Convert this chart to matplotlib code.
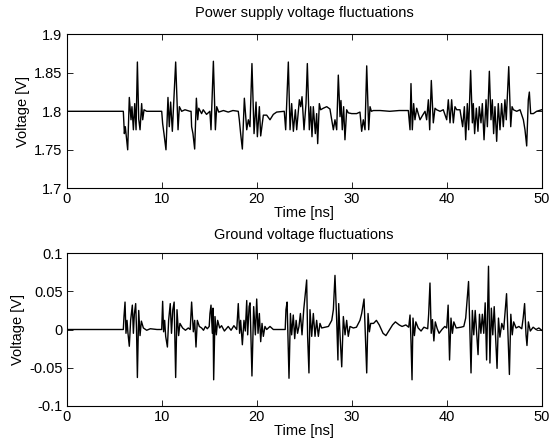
import matplotlib
matplotlib.use("Agg")
import matplotlib.pyplot as plt

plt.rcParams['font.family'] = ['Liberation Sans', 'DejaVu Sans']

# ---------------- data ----------------
vdd_time_ns = [
    0, 5.96, 6.07, 6.17, 6.42, 6.59, 6.77, 6.87, 7.02, 7.16, 7.30, 7.44, 7.58, 7.72, 7.89, 8.00, 8.14, 8.42, 10.0,
    10.10, 10.24, 10.45, 10.66, 10.80, 10.94, 11.12, 11.26, 11.47, 11.72, 11.86, 12.10, 12.45, 12.98,
    13.09, 13.15, 13.29, 13.47, 13.65, 13.79, 13.90, 14.20, 14.37, 14.72, 15.07, 15.19, 15.44, 15.65, 15.79,
    16.00, 16.50, 17.00, 17.50, 18.00,
    18.06, 18.17, 18.31, 18.49, 18.70, 18.95, 19.12, 19.29, 19.50, 19.72, 19.93, 20.07, 20.28, 20.42, 20.70,
    21.05, 21.40, 21.75, 22.10, 22.90,
    23.05, 23.33, 23.51, 23.68, 23.86, 24.07, 24.21, 24.49, 24.63, 24.77, 24.98, 25.19, 25.33, 25.54, 25.68,
    25.82, 25.96, 26.17, 26.31, 26.42, 26.59, 26.73, 27.01, 27.37, 27.71,
    28.07, 28.24, 28.42, 28.59, 28.77, 28.87, 29.01, 29.15, 29.29, 29.47, 29.64, 30.00, 30.52, 30.87, 31.05,
    31.22, 31.40, 31.58, 31.79, 31.93, 32.07, 32.28, 33.00, 34.00, 35.00, 35.96,
    36.14, 36.24, 36.38, 36.52, 36.66, 36.84, 37.19, 37.47, 37.72, 37.89, 38.07, 38.21, 38.38, 38.59, 38.77,
    38.94, 39.30, 39.64, 40.00, 40.17, 40.35, 40.52, 40.70, 40.87, 41.05, 41.40, 41.68, 41.86, 42.00, 42.17,
    42.31, 42.52, 42.70, 42.80, 42.94, 43.12, 43.29, 43.43, 43.61, 43.75, 43.93, 44.14, 44.28, 44.49, 44.66,
    44.80, 44.94, 45.08, 45.26, 45.43, 45.61, 45.78, 45.96, 46.13, 46.27, 46.53, 46.74, 46.88, 47.02, 47.37,
    47.72, 48.07, 48.24, 48.42, 48.59, 48.70, 48.84, 49.12, 49.47, 50.00,
]
vdd_volts = [
    1.800, 1.800, 1.771, 1.780, 1.750, 1.818, 1.789, 1.806, 1.776, 1.810, 1.776, 1.864, 1.790, 1.776, 1.810, 1.789, 1.802, 1.800, 1.800,
    1.784, 1.771, 1.750, 1.818, 1.780, 1.812, 1.774, 1.810, 1.864, 1.776, 1.806, 1.800, 1.802, 1.800,
    1.800, 1.780, 1.771, 1.751, 1.817, 1.789, 1.804, 1.797, 1.802, 1.796, 1.800, 1.776, 1.865, 1.776, 1.806,
    1.799, 1.801, 1.799, 1.801, 1.800,
    1.800, 1.789, 1.771, 1.751, 1.817, 1.776, 1.789, 1.780, 1.862, 1.771, 1.812, 1.767, 1.806, 1.768, 1.795,
    1.795, 1.789, 1.796, 1.799, 1.800,
    1.776, 1.864, 1.776, 1.810, 1.774, 1.802, 1.776, 1.815, 1.806, 1.819, 1.776, 1.810, 1.862, 1.776, 1.806,
    1.767, 1.806, 1.771, 1.797, 1.758, 1.810, 1.802, 1.804, 1.806, 1.803,
    1.776, 1.789, 1.776, 1.847, 1.793, 1.814, 1.776, 1.806, 1.763, 1.802, 1.798, 1.797, 1.797, 1.799, 1.774,
    1.789, 1.776, 1.859, 1.776, 1.806, 1.800, 1.801, 1.801, 1.800, 1.801, 1.801,
    1.776, 1.836, 1.776, 1.810, 1.789, 1.804, 1.789, 1.795, 1.800, 1.789, 1.815, 1.776, 1.840, 1.785, 1.804,
    1.802, 1.800, 1.802, 1.789, 1.815, 1.785, 1.815, 1.785, 1.806, 1.802, 1.802, 1.780, 1.806, 1.763, 1.810,
    1.776, 1.853, 1.785, 1.810, 1.771, 1.804, 1.774, 1.806, 1.785, 1.810, 1.763, 1.815, 1.780, 1.852, 1.789,
    1.815, 1.771, 1.806, 1.761, 1.810, 1.776, 1.810, 1.780, 1.815, 1.789, 1.858, 1.780, 1.806, 1.802, 1.800,
    1.802, 1.789, 1.776, 1.755, 1.815, 1.825, 1.797, 1.797, 1.800, 1.802,
]

gnd_time_ns = [
    0, 5.96, 6.03, 6.14, 6.24, 6.35, 6.45, 6.59, 6.73, 6.91, 7.02, 7.12, 7.26, 7.35, 7.44, 7.58, 7.72, 7.86,
    8.07, 8.42, 8.80, 9.50, 10.00,
    10.10, 10.20, 10.31, 10.42, 10.60, 10.73, 10.90, 11.03, 11.17, 11.31, 11.47, 11.61, 11.78, 11.92, 12.20,
    12.50, 12.80, 13.00,
    13.15, 13.33, 13.47, 13.61, 13.75, 13.96, 14.20, 14.40, 14.60, 14.80, 15.00, 15.08, 15.19, 15.33, 15.40,
    15.47, 15.61, 15.75, 15.89, 16.10, 16.30, 16.60, 17.00, 17.30, 17.60, 17.90,
    18.06, 18.20, 18.31, 18.49, 18.66, 18.80, 18.95, 19.05, 19.20, 19.30, 19.50, 19.68, 19.86, 20.00, 20.14,
    20.28, 20.42, 20.56, 20.70, 20.87, 21.05, 21.40, 21.75, 22.10, 22.80, 23.00,
    23.08, 23.20, 23.40, 23.55, 23.68, 23.85, 24.00, 24.15, 24.30, 24.45, 24.60, 24.77, 24.95, 25.26, 25.36,
    25.50, 25.61, 25.79, 25.96, 26.14, 26.31, 26.49, 26.66, 26.84, 27.20, 27.55, 27.90,
    28.07, 28.24, 28.42, 28.55, 28.63, 28.77, 28.95, 29.12, 29.30, 29.47, 29.64, 29.82, 30.17, 30.50, 30.87,
    31.05, 31.30, 31.44, 31.58, 31.72, 31.86, 32.00, 32.30, 32.60, 32.90, 33.30, 33.60, 33.80, 34.00, 34.30,
    34.60, 35.00, 35.30, 35.70, 36.00,
    36.14, 36.24, 36.35, 36.45, 36.60, 36.75, 37.00, 37.30, 37.60, 38.00, 38.10, 38.24, 38.37, 38.50, 38.65,
    38.80, 39.00, 39.20, 39.50, 39.80, 40.00, 40.15, 40.30, 40.45, 40.60, 40.75, 41.00, 41.50, 41.80, 42.00,
    42.30, 42.45, 42.56, 42.70, 42.85, 43.00, 43.15, 43.30, 43.45, 43.60, 43.75, 43.90, 44.05, 44.20, 44.40,
    44.55, 44.70, 44.85, 45.00, 45.15, 45.30, 45.45, 45.60, 45.80, 46.00, 46.30, 46.45, 46.60, 46.75, 46.90,
    47.05, 47.30, 47.60, 47.90, 48.05, 48.20, 48.35, 48.45, 48.60, 48.80, 49.10, 49.40, 49.70, 50.00,
]
gnd_volts = [
    0.000, 0.000, 0.017, 0.036, -0.005, 0.012, -0.005, -0.022, 0.012, 0.032, -0.005, 0.020, 0.034, 0.000, -0.063, 0.025, -0.008, 0.011,
    0.002, -0.001, 0.001, 0.000, 0.000,
    0.037, -0.003, 0.012, -0.009, -0.023, 0.012, 0.034, -0.005, 0.026, 0.036, -0.063, 0.026, -0.008, 0.008, 0.002,
    -0.001, 0.002, 0.000,
    0.036, -0.003, 0.012, -0.023, 0.012, 0.004, 0.002, -0.001, 0.004, 0.001, 0.004, 0.021, 0.032, -0.005, 0.028,
    -0.066, 0.017, -0.007, 0.012, 0.002, 0.005, -0.002, 0.004, -0.001, 0.005, 0.000,
    0.034, -0.005, 0.012, -0.020, 0.012, -0.002, 0.038, -0.007, 0.030, 0.035, -0.061, 0.030, -0.007, 0.040, -0.005,
    0.021, -0.016, 0.008, -0.009, 0.004, 0.000, 0.004, 0.000, 0.000, 0.000, 0.000,
    0.026, 0.036, -0.064, 0.021, -0.007, 0.019, -0.012, 0.012, -0.005, 0.004, 0.021, -0.007, 0.026, 0.065, -0.009,
    -0.057, 0.026, -0.009, 0.021, -0.009, 0.012, -0.009, 0.008, 0.002, 0.003, 0.004, 0.012,
    0.026, 0.071, 0.012, -0.040, 0.034, -0.007, -0.049, 0.017, -0.007, 0.012, -0.009, 0.004, 0.002, 0.003, 0.012,
    0.021, 0.040, -0.007, -0.057, 0.021, -0.003, 0.008, 0.008, 0.012, 0.006, -0.005, -0.008, -0.004, 0.000, 0.006,
    0.010, 0.006, 0.004, 0.006, 0.003,
    0.019, -0.015, -0.066, 0.015, -0.008, 0.010, 0.002, -0.002, 0.003, 0.001, 0.020, 0.061, -0.005, 0.013, -0.015,
    0.010, 0.001, -0.005, 0.000, 0.004, 0.002, 0.032, -0.040, 0.015, -0.005, 0.010, 0.002, 0.003, 0.004, 0.015,
    0.063, -0.005, -0.057, 0.025, -0.007, 0.025, -0.005, -0.033, 0.020, -0.005, 0.020, -0.005, 0.035, -0.040, 0.083,
    -0.044, 0.028, -0.007, 0.030, -0.010, -0.051, 0.015, -0.010, 0.008, 0.000, 0.047, -0.005, -0.059, 0.020, -0.007,
    0.010, 0.002, 0.004, 0.001, 0.015, 0.034, -0.007, -0.021, 0.010, -0.002, 0.003, 0.000, 0.002, -0.001,
]

vdd_yticks = [1.7, 1.75, 1.8, 1.85, 1.9]
vdd_yticklabels = ["1.7", "1.75", "1.8", "1.85", "1.9"]
gnd_yticks = [-0.1, -0.05, 0, 0.05, 0.1]
gnd_yticklabels = ["-0.1", "-0.05", "0", "0.05", "0.1"]
xticks = [0, 10, 20, 30, 40, 50]

# ---------------- figure ----------------
W, H = 551, 443
fig = plt.figure(figsize=(W / 100, H / 100), dpi=100, facecolor="white")

def px_axes(left, top, right, bottom):
    return fig.add_axes([left / W, 1 - bottom / H, (right - left) / W, (bottom - top) / H])

ax1 = px_axes(66.7, 34.3, 541.7, 188.3)
ax2 = px_axes(66.7, 253.3, 541.7, 405.7)

FS = 10.5
for ax, t, v, yt, ytl, ttl, ylim, tpad in [
    (ax1, vdd_time_ns, vdd_volts, vdd_yticks, vdd_yticklabels, "Power supply voltage fluctuations", (1.7, 1.9), 12.5),
    (ax2, gnd_time_ns, gnd_volts, gnd_yticks, gnd_yticklabels, "Ground voltage fluctuations", (-0.1, 0.1), 10.5),
]:
    ax.plot(t, v, color="black", linewidth=1.0)
    ax.set_xlim(0, 50)
    ax.set_ylim(*ylim)
    ax.set_xticks(xticks)
    ax.set_xticklabels([str(x) for x in xticks])
    ax.set_yticks(yt)
    ax.set_yticklabels(ytl)
    ax.tick_params(direction="in", top=True, right=True, length=4, width=0.6,
                   labelsize=FS, pad=3)
    for s in ax.spines.values():
        s.set_linewidth(0.8)
    ax.set_xlabel("Time [ns]", fontsize=FS, labelpad=0)
    ax.set_ylabel("Voltage [V]", fontsize=FS, labelpad=3)
    ax.set_title(ttl, fontsize=FS, pad=tpad)

fig.savefig("out.png", dpi=100, facecolor="white")
